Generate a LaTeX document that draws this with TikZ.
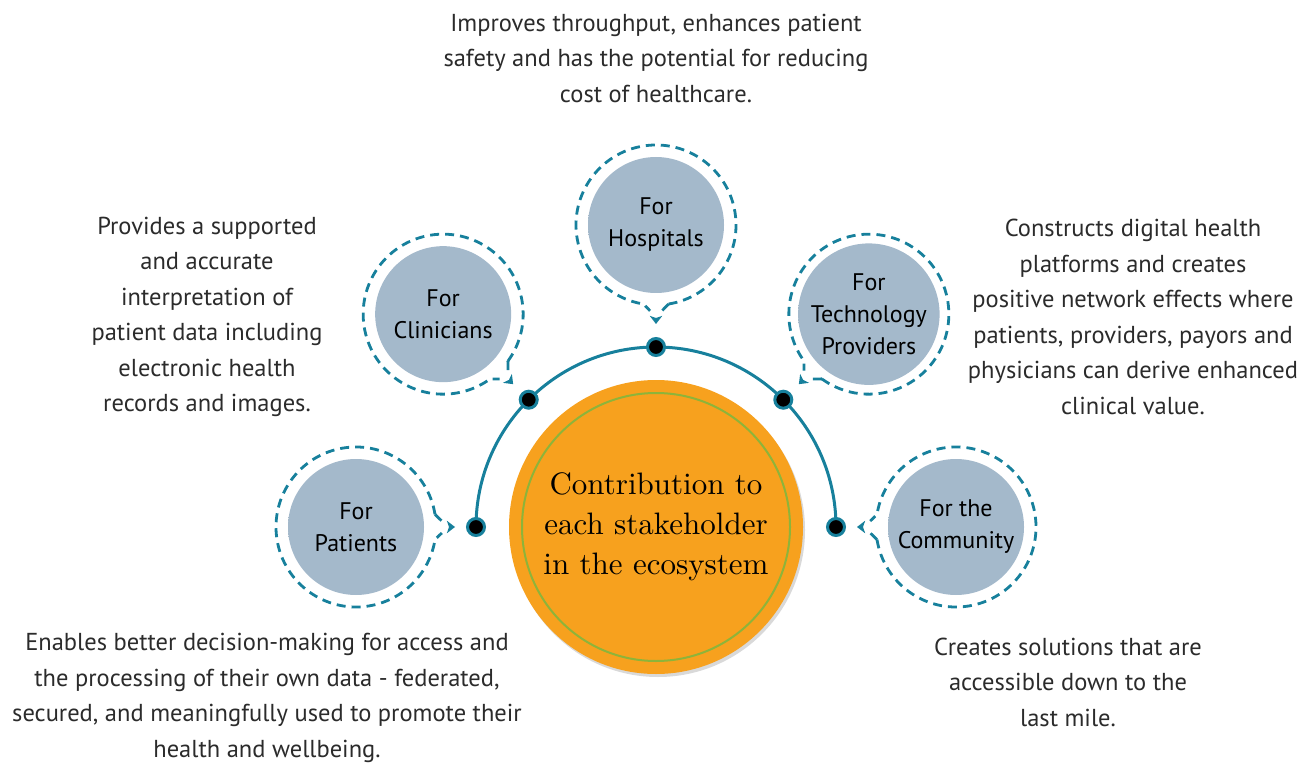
\documentclass[tikz,border=0pt]{standalone}
\usepackage{fontspec}
\newfontfamily\bodyfont{PT Sans}
\newfontfamily\hubfont{lmroman10-regular}[Extension=.otf]
\usetikzlibrary{calc,shadows,backgrounds}
\definecolor{ringteal}{HTML}{17809C}
\definecolor{skblue}{HTML}{A4B9CB}
\definecolor{skrim}{HTML}{5F6F7D}
\definecolor{hubor}{HTML}{F7A11E}
\definecolor{hubgreen}{HTML}{8DB43A}
\definecolor{txtgray}{HTML}{2B2B2B}
\pgfdeclareradialshading{stakeshade}{\pgfpoint{0bp}{0bp}}{color(0bp)=(skblue); color(39bp)=(skblue); color(50bp)=(skrim)}
\tikzset{
  stake/.style={circle, minimum size=136pt, inner sep=0pt, shading=stakeshade, align=center,
    font=\bodyfont\fontsize{24}{32}\selectfont},
  hubnode/.style={circle, minimum size=294pt, inner sep=0pt, fill=hubor, align=center,
    drop shadow={shadow xshift=2pt, shadow yshift=-3pt, opacity=0.25, fill=black!60},
    font=\hubfont\fontsize{31}{40}\selectfont},
  knot/.style={circle, fill=black, draw=ringteal, line width=3pt, minimum size=17pt, inner sep=0pt},
  ringline/.style={ringteal, line width=2.8pt, dash pattern=on 9pt off 6pt},
  arcline/.style={ringteal, line width=3pt},
  blurb/.style={align=center, inner sep=0pt, text=txtgray, font=\bodyfont\fontsize{24.5}{35.5}\selectfont}
}
\begin{document}
\begin{tikzpicture}[x=1pt, y=1pt]
  \useasboundingbox (0,0) rectangle (1300,764);

  % Hub
  \node[hubnode] (hub) at (656,237) {Contribution to\\each stakeholder\\in the ecosystem};
  \draw[hubgreen, line width=2pt] (hub.center) circle[radius=134];

  % Knots on the arc
  \node[knot] (kpat) at ($(hub.center)+(180:180)$) {};
  \node[knot] (kcli) at ($(hub.center)+(135:180)$) {};
  \node[knot] (khos) at ($(hub.center)+(90:180)$) {};
  \node[knot] (ktec) at ($(hub.center)+(45:180)$) {};
  \node[knot] (kcom) at ($(hub.center)+(0:180)$) {};
  \begin{scope}[on background layer]
    \draw[arcline] (kpat.center) arc[start angle=180, end angle=0, radius=180];
  \end{scope}

  % Stakeholders
  \node[stake] (patients) at ($(hub.center)+(180:300)$) {For\\Patients};
  \node[stake] (clinicians) at ($(hub.center)+(135:301)$) {For\\Clinicians};
  \node[stake] (hospitals) at ($(hub.center)+(90:302)$) {For\\Hospitals};
  \node[stake] (technology) at ($(hub.center)+(45:301)$) {For\\Technology\\Providers};
  \node[stake] (community) at ($(hub.center)+(0:300)$) {For the\\Community};

  % Dashed rings with pointers
  \foreach \s/\a in {patients/0, clinicians/-45, hospitals/-90, technology/-135, community/180}{
    \draw[ringline] ($(\s.center)+(\a+9:80)$) arc[start angle=\a+9, end angle=\a+351, radius=80]
      -- ($(\s.center)+(\a-4:86)$);
    \draw[ringline] ($(\s.center)+(\a+9:80)$) -- ($(\s.center)+(\a+4:86)$);
    \fill[ringteal] ($(\s.center)+(\a:99)$) -- ($(\s.center)+(\a+4:91)$)
      -- ($(\s.center)+(\a:93)$) -- ($(\s.center)+(\a-4:91)$) -- cycle;
  }

  % Texts
  \node[blurb] (thos) at (656,706) {Improves throughput, enhances patient\\safety and has the potential for reducing\\cost of healthcare.};
  \node[blurb] (tcli) at (207,447) {Provides a supported\\and accurate\\interpretation of\\patient data including\\electronic health\\records and images.};
  \node[blurb] (ttec) at (1133,447) {Constructs digital health\\platforms and creates\\positive network effects where\\patients, providers, payors and\\physicians can derive enhanced\\clinical value.};
  \node[blurb] (tpat) at (267,66) {Enables better decision-making for access and\\the processing of their own data - federated,\\secured, and meaningfully used to promote their\\health and wellbeing.};
  \node[blurb] (tcom) at (1068,82) {Creates solutions that are\\accessible down to the\\last mile.};
\end{tikzpicture}
\end{document}
